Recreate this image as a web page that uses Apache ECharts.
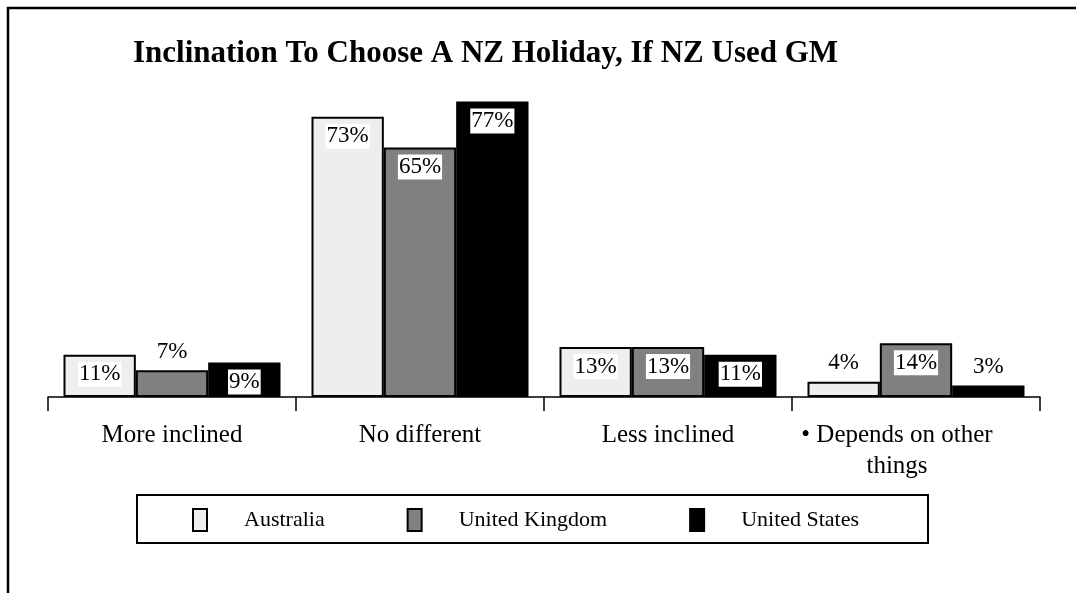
<!DOCTYPE html>
<html>
<head>
<meta charset="utf-8">
<script src="https://cdn.jsdelivr.net/npm/echarts@6/dist/echarts.min.js"></script>
<style>
  html, body { margin: 0; padding: 0; background: #fff; }
  #chart { width: 1076px; height: 593px; }
</style>
</head>
<body>
<div id="chart"></div>
<script>
// data
var categories = ['More inclined', 'No different', 'Less inclined', '• Depends on other\nthings'];
var seriesNames = ['Australia', 'United Kingdom', 'United States'];
var australia = [11, 73, 13, 4];
var unitedKingdom = [7, 65, 13, 14];
var unitedStates = [9, 77, 11, 3];

var FONT = '"Liberation Serif", "Times New Roman", serif';
var colors = ['#eeeeee', '#808080', '#000000'];

var insideLabel = {
    show: true,
    position: 'insideTop',
    distance: 7,
    formatter: '{c}%',
    color: '#000',
    backgroundColor: '#fff',
    padding: [1, 1],
    fontFamily: FONT,
    fontSize: 23
};
var topLabel = {
    show: true,
    position: 'top',
    distance: 6,
    formatter: '{c}%',
    color: '#000',
    backgroundColor: 'transparent',
    fontFamily: FONT,
    fontSize: 23
};

function makeSeries(name, values, color) {
    return {
        name: name,
        type: 'bar',
        barGap: '0%',
        barCategoryGap: '12.5%',
        itemStyle: { color: color, borderColor: '#000', borderWidth: 2 },
        label: insideLabel,
        emphasis: { disabled: true },
        data: values.map(function (v) {
            // small bars get the label above them
            return v < 8 ? { value: v, label: topLabel } : v;
        })
    };
}

// the last (two-line) label sits a bit left of its category centre
var axisData = categories.map(function (c, i) {
    return i === categories.length - 1 ? { value: c, textStyle: { padding: [0, 38, 0, 0] } } : c;
});

var dom = document.getElementById('chart');
var myChart = echarts.init(dom, null, { renderer: 'canvas' });

var option = {
    animation: false,
    backgroundColor: '#fff',
    title: {
        text: 'Inclination To Choose A NZ Holiday, If NZ Used GM',
        left: 133,
        top: 38,
        padding: 0,
        textStyle: { fontFamily: FONT, fontSize: 31, fontWeight: 'bold', color: '#000' }
    },
    legend: {
        left: 192,
        top: 508,
        padding: 0,
        itemWidth: 14,
        itemHeight: 22,
        itemGap: 82,
        icon: 'rect',
        data: seriesNames,
        formatter: function (name) { return '{t|' + name + '}'; },
        textStyle: {
            color: '#000',
            fontFamily: FONT,
            fontSize: 22,
            rich: { t: { padding: [0, 0, 0, 32], fontFamily: FONT, fontSize: 22, color: '#000' } }
        }
    },
    grid: { left: 48, right: 36, top: 90, bottom: 196 },
    xAxis: {
        type: 'category',
        data: axisData,
        axisLine: { show: true, lineStyle: { color: '#000', width: 1.5 } },
        axisTick: { show: true, length: 14, lineStyle: { color: '#000', width: 1.5 } },
        axisLabel: {
            interval: 0,
            margin: 23,
            color: '#000',
            fontFamily: FONT,
            fontSize: 25,
            lineHeight: 31
        },
        splitLine: { show: false }
    },
    yAxis: {
        type: 'value',
        min: 0,
        max: 80,
        show: false,
        splitLine: { show: false }
    },
    series: [
        makeSeries(seriesNames[0], australia, colors[0]),
        makeSeries(seriesNames[1], unitedKingdom, colors[1]),
        makeSeries(seriesNames[2], unitedStates, colors[2])
    ],
    graphic: [
        {
            type: 'rect',
            shape: { x: 8, y: 8, width: 1200, height: 700 },
            style: { fill: 'none', stroke: '#000', lineWidth: 2.5 },
            silent: true
        },
        {
            type: 'rect',
            shape: { x: 137, y: 495, width: 791, height: 48 },
            style: { fill: 'none', stroke: '#000', lineWidth: 2 },
            silent: true,
            z: 10
        }
    ]
};

myChart.setOption(option);
window.addEventListener('resize', myChart.resize);
</script>
</body>
</html>
